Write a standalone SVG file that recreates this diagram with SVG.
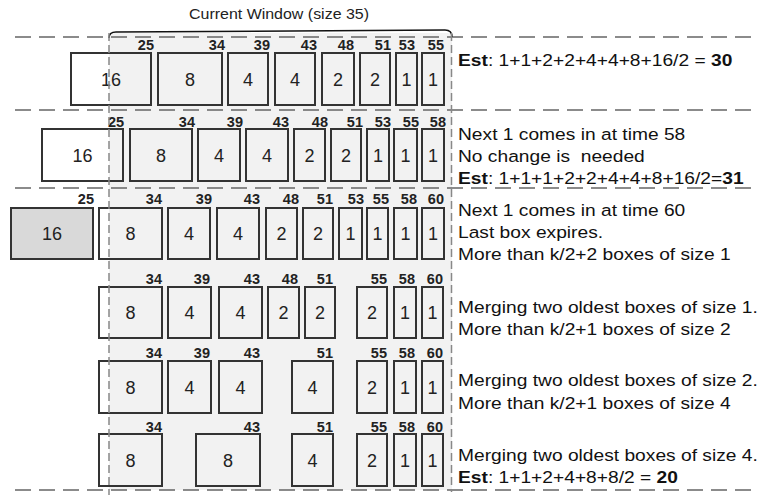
<svg xmlns="http://www.w3.org/2000/svg" width="757" height="495" viewBox="0 0 757 495">
<style>
.bx{fill:none;stroke:#333;stroke-width:2}
.num{font-family:"Liberation Sans",Arial,sans-serif;font-size:18px;fill:#222;text-anchor:middle}
.lab{font-family:"Liberation Sans",Arial,sans-serif;font-size:14.5px;font-weight:bold;fill:#222;text-anchor:end}
.txt{font-family:"Liberation Sans",Arial,sans-serif;font-size:17px;fill:#111}
.b{font-weight:bold}
.sep{stroke:#666;stroke-width:1.6;stroke-dasharray:16 8;fill:none}
.win{stroke:#888;stroke-width:1.5;stroke-dasharray:8 4;fill:none}
</style>
<rect x="109" y="33" width="343" height="457" fill="#f2f2f2"/>
<g id="guides">
<line class="sep" x1="15" y1="37" x2="757" y2="37"/>
<line class="sep" x1="15" y1="110" x2="757" y2="110"/>
<line class="sep" x1="15" y1="188" x2="757" y2="188"/>
<line class="sep" x1="15" y1="490" x2="757" y2="490"/>
<path d="M109,38 Q109,32 116,32 L445,30 Q452,30 452,37" fill="none" stroke="#111" stroke-width="1.5"/>
<text x="189" y="19" font-family="Liberation Sans,Arial,sans-serif" font-size="14" fill="#222" textLength="180" lengthAdjust="spacingAndGlyphs">Current Window (size 35)</text>
</g>
<g id="connectors"></g>
<!-- Row 1 -->
<g id="r1">
<g id="r1-16"><rect class="bx" x="71" y="53" width="80" height="52"/><text class="num" x="111" y="85.5">16</text><text class="lab" x="154" y="50">25</text></g>
<g id="r1-8"><rect class="bx" x="158" y="53" width="64" height="52"/><text class="num" x="190" y="85.5">8</text><text class="lab" x="225" y="50">34</text></g>
<g id="r1-4a"><rect class="bx" x="228" y="53" width="40" height="52"/><text class="num" x="248" y="85.5">4</text><text class="lab" x="270" y="50">39</text></g>
<g id="r1-4b"><rect class="bx" x="275" y="53" width="40" height="52"/><text class="num" x="295" y="85.5">4</text><text class="lab" x="317" y="50">43</text></g>
<g id="r1-2a"><rect class="bx" x="322" y="53" width="32" height="52"/><text class="num" x="338" y="85.5">2</text><text class="lab" x="354" y="50">48</text></g>
<g id="r1-2b"><rect class="bx" x="360" y="53" width="30" height="52"/><text class="num" x="375" y="85.5">2</text><text class="lab" x="391" y="50">51</text></g>
<g id="r1-1a"><rect class="bx" x="396" y="53" width="21" height="52"/><text class="num" x="406.5" y="85.5">1</text><text class="lab" x="415" y="50">53</text></g>
<g id="r1-1b"><rect class="bx" x="422" y="53" width="22" height="52"/><text class="num" x="433" y="85.5">1</text><text class="lab" x="444" y="50">55</text></g>
</g>
<!-- Row 2 -->
<g id="r2">
<g id="r2-16"><rect class="bx" x="42" y="129" width="81" height="52"/><text class="num" x="82.5" y="161.5">16</text><text class="lab" x="108" y="127" style="text-anchor:start">25</text></g>
<g id="r2-8"><rect class="bx" x="130" y="129" width="62" height="52"/><text class="num" x="161" y="161.5">8</text><text class="lab" x="195" y="127">34</text></g>
<g id="r2-4a"><rect class="bx" x="198" y="129" width="42" height="52"/><text class="num" x="219" y="161.5">4</text><text class="lab" x="243" y="127">39</text></g>
<g id="r2-4b"><rect class="bx" x="246" y="129" width="42" height="52"/><text class="num" x="267" y="161.5">4</text><text class="lab" x="289" y="127">43</text></g>
<g id="r2-2a"><rect class="bx" x="294" y="129" width="31" height="52"/><text class="num" x="309.5" y="161.5">2</text><text class="lab" x="328" y="127">48</text></g>
<g id="r2-2b"><rect class="bx" x="331" y="129" width="30" height="52"/><text class="num" x="346" y="161.5">2</text><text class="lab" x="363" y="127">51</text></g>
<g id="r2-1a"><rect class="bx" x="367" y="129" width="22" height="52"/><text class="num" x="378" y="161.5">1</text><text class="lab" x="391" y="127">53</text></g>
<g id="r2-1b"><rect class="bx" x="394" y="129" width="23" height="52"/><text class="num" x="405.5" y="161.5">1</text><text class="lab" x="419" y="127">55</text></g>
<g id="r2-1c"><rect class="bx" x="422" y="129" width="22" height="52"/><text class="num" x="433" y="161.5">1</text><text class="lab" x="446" y="127">58</text></g>
</g>
<!-- Row 3 -->
<g id="r3">
<g id="r3-16"><rect class="bx" x="11" y="208" width="82" height="51" style="fill:#d9d9d9"/><text class="num" x="52" y="240">16</text><text class="lab" x="94" y="204">25</text></g>
<g id="r3-8"><rect class="bx" x="99" y="208" width="63" height="51"/><text class="num" x="130.5" y="240">8</text><text class="lab" x="162" y="204">34</text></g>
<g id="r3-4a"><rect class="bx" x="168" y="208" width="42" height="51"/><text class="num" x="189" y="240">4</text><text class="lab" x="212" y="204">39</text></g>
<g id="r3-4b"><rect class="bx" x="217" y="208" width="42" height="51"/><text class="num" x="238" y="240">4</text><text class="lab" x="260" y="204">43</text></g>
<g id="r3-2a"><rect class="bx" x="266" y="208" width="31" height="51"/><text class="num" x="281.5" y="240">2</text><text class="lab" x="299" y="204">48</text></g>
<g id="r3-2b"><rect class="bx" x="303" y="208" width="30" height="51"/><text class="num" x="318" y="240">2</text><text class="lab" x="333" y="204">51</text></g>
<g id="r3-1a"><rect class="bx" x="339" y="208" width="23" height="51"/><text class="num" x="350.5" y="240">1</text><text class="lab" x="364" y="204">53</text></g>
<g id="r3-1b"><rect class="bx" x="367" y="208" width="21" height="51"/><text class="num" x="377.5" y="240">1</text><text class="lab" x="389" y="204">55</text></g>
<g id="r3-1c"><rect class="bx" x="394" y="208" width="23" height="51"/><text class="num" x="405.5" y="240">1</text><text class="lab" x="417" y="204">58</text></g>
<g id="r3-1d"><rect class="bx" x="422" y="208" width="22" height="51"/><text class="num" x="433" y="240">1</text><text class="lab" x="444" y="204">60</text></g>
</g>
<!-- Row 4 -->
<g id="r4">
<g id="r4-8"><rect class="bx" x="99" y="287" width="63" height="51"/><text class="num" x="130.5" y="319">8</text><text class="lab" x="162" y="284">34</text></g>
<g id="r4-4a"><rect class="bx" x="168" y="287" width="43" height="51"/><text class="num" x="189.5" y="319">4</text><text class="lab" x="210" y="284">39</text></g>
<g id="r4-4b"><rect class="bx" x="219" y="287" width="43" height="51"/><text class="num" x="240.5" y="319">4</text><text class="lab" x="260" y="284">43</text></g>
<g id="r4-2a"><rect class="bx" x="268" y="287" width="31" height="51"/><text class="num" x="283.5" y="319">2</text><text class="lab" x="298" y="284">48</text></g>
<g id="r4-2b"><rect class="bx" x="305" y="287" width="30" height="51"/><text class="num" x="320" y="319">2</text><text class="lab" x="333" y="284">51</text></g>
<g id="r4-2c"><rect class="bx" x="357" y="287" width="30" height="51"/><text class="num" x="372" y="319">2</text><text class="lab" x="387" y="284">55</text></g>
<g id="r4-1a"><rect class="bx" x="394" y="287" width="22" height="51"/><text class="num" x="405" y="319">1</text><text class="lab" x="415" y="284">58</text></g>
<g id="r4-1b"><rect class="bx" x="422" y="287" width="21" height="51"/><text class="num" x="432.5" y="319">1</text><text class="lab" x="443" y="284">60</text></g>
</g>
<!-- Row 5 -->
<g id="r5">
<g id="r5-8"><rect class="bx" x="99" y="361" width="63" height="52"/><text class="num" x="130.5" y="393.5">8</text><text class="lab" x="162" y="358">34</text></g>
<g id="r5-4a"><rect class="bx" x="168" y="361" width="43" height="52"/><text class="num" x="189.5" y="393.5">4</text><text class="lab" x="210" y="358">39</text></g>
<g id="r5-4b"><rect class="bx" x="219" y="361" width="43" height="52"/><text class="num" x="240.5" y="393.5">4</text><text class="lab" x="260" y="358">43</text></g>
<g id="r5-4c"><rect class="bx" x="292" y="361" width="41" height="52"/><text class="num" x="312.5" y="393.5">4</text><text class="lab" x="333" y="358">51</text></g>
<g id="r5-2"><rect class="bx" x="357" y="361" width="30" height="52"/><text class="num" x="372" y="393.5">2</text><text class="lab" x="387" y="358">55</text></g>
<g id="r5-1a"><rect class="bx" x="394" y="361" width="22" height="52"/><text class="num" x="405" y="393.5">1</text><text class="lab" x="415" y="358">58</text></g>
<g id="r5-1b"><rect class="bx" x="422" y="361" width="21" height="52"/><text class="num" x="432.5" y="393.5">1</text><text class="lab" x="443" y="358">60</text></g>
</g>
<!-- Row 6 -->
<g id="r6">
<g id="r6-8a"><rect class="bx" x="99" y="434" width="63" height="52"/><text class="num" x="130.5" y="466.5">8</text><text class="lab" x="162" y="432">34</text></g>
<g id="r6-8b"><rect class="bx" x="196" y="434" width="64" height="52"/><text class="num" x="228" y="466.5">8</text><text class="lab" x="260" y="432">43</text></g>
<g id="r6-4"><rect class="bx" x="292" y="434" width="41" height="52"/><text class="num" x="312.5" y="466.5">4</text><text class="lab" x="333" y="432">51</text></g>
<g id="r6-2"><rect class="bx" x="357" y="434" width="30" height="52"/><text class="num" x="372" y="466.5">2</text><text class="lab" x="387" y="432">55</text></g>
<g id="r6-1a"><rect class="bx" x="394" y="434" width="22" height="52"/><text class="num" x="405" y="466.5">1</text><text class="lab" x="415" y="432">58</text></g>
<g id="r6-1b"><rect class="bx" x="422" y="434" width="21" height="52"/><text class="num" x="432.5" y="466.5">1</text><text class="lab" x="443" y="432">60</text></g>
</g>
<g id="window-edges">
<line class="win" x1="109" y1="33" x2="109" y2="495"/>
<line class="win" x1="451.5" y1="33" x2="451.5" y2="492"/>
</g>
<g id="notes" transform="translate(458 0) scale(1.13 1)">
<text class="txt" x="0" y="66"><tspan class="b">Est</tspan>: 1+1+2+2+4+4+8+16/2 = <tspan class="b">30</tspan></text>
<text class="txt" x="0" y="140">Next 1 comes in at time 58</text>
<text class="txt" x="0" y="162" xml:space="preserve">No change is  needed</text>
<text class="txt" x="0" y="184"><tspan class="b">Est</tspan>: 1+1+1+2+2+4+4+8+16/2=<tspan class="b">31</tspan></text>
<text class="txt" x="0" y="216">Next 1 comes in at time 60</text>
<text class="txt" x="0" y="238">Last box expires.</text>
<text class="txt" x="0" y="260">More than k/2+2 boxes of size 1</text>
<text class="txt" x="0" y="313">Merging two oldest boxes of size 1.</text>
<text class="txt" x="0" y="335">More than k/2+1 boxes of size 2</text>
<text class="txt" x="0" y="386">Merging two oldest boxes of size 2.</text>
<text class="txt" x="0" y="409">More than k/2+1 boxes of size 4</text>
<text class="txt" x="0" y="461">Merging two oldest boxes of size 4.</text>
<text class="txt" x="0" y="483"><tspan class="b">Est</tspan>: 1+1+2+4+8+8/2 = <tspan class="b">20</tspan></text>
</g>
</svg>
